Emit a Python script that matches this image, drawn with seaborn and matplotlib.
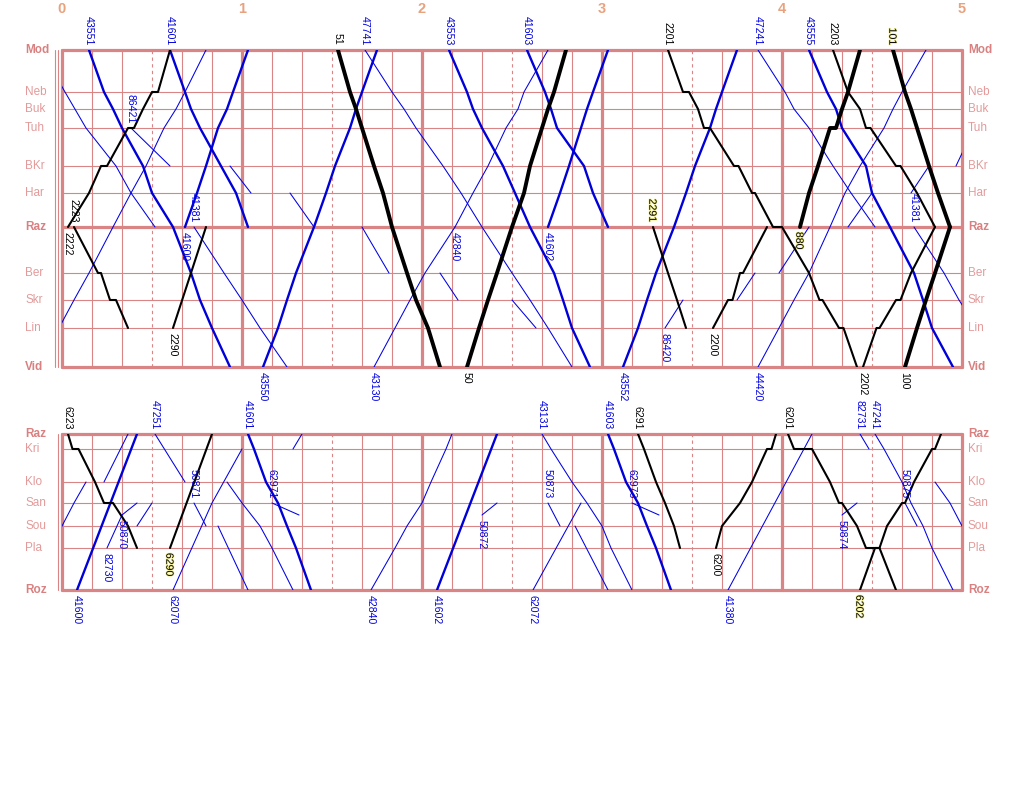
import pandas as pd
import matplotlib
matplotlib.use("Agg")
import matplotlib.pyplot as plt
import matplotlib.patheffects as pe
import seaborn as sns

# stations (position along the line, top panel / bottom panel)
top_stations = ["Mod", "Neb", "Buk", "Tuh", "BKr", "Har", "Raz", "Ber", "Skr", "Lin", "Vid"]
top_km = [0, 42, 59, 78, 116, 143, 177, 223, 250, 278, 317]
top_bold = ["Mod", "Raz", "Vid"]
bot_stations = ["Raz", "Kri", "Klo", "San", "Sou", "Pla", "Roz"]
bot_km = [0, 15, 48, 69, 92, 114, 156]
bot_bold = ["Raz", "Roz"]
junction_km = 81          # unnamed branch point between San and Sou
hours = [0, 1, 2, 3, 4, 5]
marked = ["2291", "6290", "6202", "880", "101"]   # numbers drawn with a yellow halo

# trains: (number, [(station, minute), ...])
top_blue_thick = [
    ("43551", [("Mod", 9), ("Neb", 14), ("Buk", 17), ("Tuh", 20), ("BKr", 27), ("Har", 30), ("Raz", 37), ("Ber", 43), ("Skr", 46), ("Lin", 50), ("Vid", 56)]),
    ("41601", [("Mod", 36), ("Neb", 41), ("Buk", 43), ("Tuh", 46), ("BKr", 53), ("Har", 58), ("Raz", 62)]),
    ("41600", [("Raz", 41), ("Har", 45), ("BKr", 48), ("Tuh", 52), ("Buk", 55), ("Neb", 57), ("Mod", 62)]),
    ("43550", [("Vid", 67), ("Lin", 72), ("Skr", 75), ("Ber", 78), ("Raz", 84), ("Har", 88), ("BKr", 91), ("Tuh", 96), ("Buk", 98), ("Neb", 100), ("Mod", 105)]),
    ("43553", [("Mod", 129), ("Neb", 135), ("Buk", 137), ("Tuh", 140), ("BKr", 147), ("Har", 151), ("Raz", 156), ("Ber", 164), ("Skr", 167), ("Lin", 170), ("Vid", 176)]),
    ("41603", [("Mod", 155), ("Neb", 161), ("Buk", 163), ("Tuh", 165), ("BKr", 174), ("Har", 177), ("Raz", 182)]),
    ("41602", [("Raz", 162), ("Har", 166), ("BKr", 169), ("Tuh", 173), ("Buk", 175), ("Neb", 177), ("Mod", 182)]),
    ("43552", [("Vid", 187), ("Lin", 192), ("Skr", 195), ("Ber", 198), ("Raz", 204), ("Har", 208), ("BKr", 211), ("Tuh", 216), ("Buk", 218), ("Neb", 220), ("Mod", 225)]),
    ("43555", [("Mod", 249), ("Neb", 255), ("Buk", 258), ("Tuh", 260), ("BKr", 268), ("Har", 270), ("Raz", 276), ("Ber", 284), ("Skr", 287), ("Lin", 290), ("Vid", 297)]),
]
top_blue_thin = [
    ("", [("Mod", -7), ("Neb", 1), ("Tuh", 8), ("BKr", 18), ("Har", 23), ("Raz", 31)]),
    ("86421", [("Tuh", 23), ("BKr", 36)]),
    ("", [("Vid", -8), ("Lin", -1), ("Skr", 4), ("Ber", 9), ("Raz", 17), ("Har", 23), ("BKr", 28), ("Tuh", 34), ("Buk", 38), ("Neb", 41), ("Mod", 48)]),
    ("", [("BKr", 56), ("Har", 63)]),
    ("41381", [("Raz", 44), ("Ber", 54), ("Skr", 60), ("Lin", 66), ("Vid", 75)]),
    ("47741", [("Mod", 101), ("Neb", 110), ("Buk", 114), ("Tuh", 118), ("BKr", 127), ("Har", 133), ("Raz", 140), ("Ber", 150), ("Skr", 156), ("Lin", 162), ("Vid", 170)]),
    ("", [("Har", 76), ("Raz", 84)]),
    ("", [("Raz", 100), ("Ber", 109)]),
    ("43130", [("Vid", 104), ("Lin", 111), ("Skr", 116), ("Ber", 121), ("Raz", 131)]),
    ("42840", [("Raz", 131), ("Har", 137), ("BKr", 142), ("Tuh", 148), ("Buk", 152), ("Neb", 154), ("Mod", 162)]),
    ("", [("Ber", 126), ("Skr", 132)]),
    ("", [("Skr", 150), ("Lin", 158)]),
    ("47241", [("Mod", 232), ("Neb", 241), ("Buk", 244), ("Tuh", 249), ("BKr", 257), ("Har", 263), ("Raz", 271)]),
    ("86420", [("Lin", 201), ("Skr", 207)]),
    ("", [("Skr", 225), ("Ber", 231)]),
    ("", [("Ber", 239), ("Raz", 249)]),
    ("44420", [("Vid", 232), ("Lin", 239), ("Skr", 244), ("Ber", 249), ("Raz", 256), ("Har", 261), ("BKr", 266), ("Tuh", 274), ("Buk", 277), ("Neb", 280), ("Mod", 288)]),
    ("", [("Raz", 262), ("Har", 270)]),
    ("", [("Har", 283), ("BKr", 289)]),
    ("41381", [("Raz", 284), ("Ber", 294), ("Skr", 299), ("Lin", 305), ("Vid", 314)]),
    ("", [("BKr", 298), ("Tuh", 304)]),
]
top_black_thick = [
    ("51", [("Mod", 92), ("Neb", 96), ("Buk", 98), ("Tuh", 100), ("BKr", 104), ("Har", 107), ("Raz", 110), ("Ber", 115), ("Skr", 118), ("Lin", 122), ("Vid", 126)]),
    ("50", [("Vid", 135), ("Lin", 139), ("Skr", 142), ("Ber", 145), ("Raz", 150), ("Har", 154), ("BKr", 156), ("Tuh", 160), ("Buk", 162), ("Neb", 164), ("Mod", 168)]),
    ("880", [("Raz", 246), ("Har", 249), ("BKr", 252), ("Tuh", 256), ("Tuh", 258), ("Buk", 260), ("Neb", 262), ("Mod", 266)]),
    ("101", [("Mod", 277), ("Neb", 281), ("Buk", 283), ("Tuh", 285), ("BKr", 289), ("Har", 292), ("Raz", 296)]),
    ("100", [("Vid", 281), ("Lin", 285), ("Skr", 288), ("Ber", 291), ("Raz", 296)]),
]
top_black = [
    ("2222", [("Raz", 2), ("Har", 9), ("BKr", 13), ("BKr", 15), ("Tuh", 22), ("Tuh", 24), ("Buk", 27), ("Neb", 30), ("Neb", 32), ("Mod", 36)]),
    ("2223", [("Raz", 4), ("Ber", 12), ("Ber", 13), ("Skr", 16), ("Skr", 18), ("Lin", 22)]),
    ("2290", [("Lin", 37), ("Raz", 48)]),
    ("2201", [("Mod", 202), ("Neb", 207), ("Neb", 209), ("Buk", 212), ("Tuh", 214), ("Tuh", 216), ("BKr", 224), ("BKr", 225.5), ("Har", 230), ("Har", 231), ("Raz", 237), ("Raz", 240), ("Ber", 249), ("Skr", 252.5), ("Skr", 253.5), ("Lin", 259), ("Lin", 260.5), ("Vid", 265)]),
    ("2291", [("Raz", 197), ("Ber", 202), ("Skr", 205), ("Lin", 208)]),
    ("2200", [("Lin", 217), ("Skr", 222), ("Skr", 223.5), ("Ber", 226), ("Ber", 227), ("Raz", 235)]),
    ("2203", [("Mod", 257), ("Neb", 262), ("Buk", 266), ("Tuh", 268), ("Tuh", 269.5), ("BKr", 278), ("BKr", 279.5), ("Har", 285), ("Raz", 291)]),
    ("2202", [("Vid", 267), ("Lin", 271.5), ("Lin", 272.5), ("Skr", 278), ("Skr", 279.5), ("Ber", 283), ("Raz", 291)]),
]

bot_blue_thick = [
    ("41600", [("Roz", 5), ("Raz", 25)]),
    ("41601", [("Raz", 62), ("Kri", 64), ("Klo", 68), ("San", 72), ("Sou", 75), ("Pla", 78), ("Roz", 83)]),
    ("41602", [("Roz", 125), ("Raz", 145)]),
    ("41603", [("Raz", 182), ("Kri", 184), ("Klo", 188), ("San", 192), ("Sou", 195), ("Pla", 198), ("Roz", 203)]),
]
bot_blue_thin = [
    ("", [("Roz", -11), ("Sou", 0), ("San", 4), ("Klo", 8)]),
    ("", [("Klo", 14), ("Raz", 22)]),
    ("82730", [("Pla", 15), ("J", 20)]),
    ("50870", [("J", 20), ("San", 25)]),
    ("", [("Sou", 25), ("San", 30)]),
    ("47251", [("Raz", 31), ("Klo", 41)]),
    ("62070", [("Roz", 37), ("San", 50), ("Kri", 60)]),
    ("50871", [("San", 44), ("Sou", 48)]),
    ("", [("Sou", 52), ("Roz", 62)]),
    ("", [("Klo", 55), ("San", 60), ("Sou", 66), ("Pla", 70), ("Roz", 77)]),
    ("", [("Kri", 77), ("Raz", 80)]),
    ("62971", [("San", 70), ("J", 79)]),
    ("42840", [("Roz", 103), ("Pla", 111), ("Sou", 115), ("San", 120), ("Klo", 123), ("Kri", 128), ("Raz", 130)]),
    ("50872", [("J", 140), ("San", 145)]),
    ("62072", [("Roz", 157), ("San", 173)]),
    ("43131", [("Raz", 160), ("Kri", 163), ("Klo", 170), ("San", 175), ("Sou", 180), ("Pla", 183), ("Roz", 190)]),
    ("50873", [("San", 162), ("Sou", 166)]),
    ("", [("Sou", 171), ("Roz", 182)]),
    ("62973", [("San", 190), ("J", 199)]),
    ("41380", [("Roz", 222), ("Raz", 250)]),
    ("82731", [("Raz", 266), ("Kri", 269)]),
    ("47241", [("Raz", 271), ("Kri", 274), ("Klo", 280), ("San", 283), ("Sou", 287), ("Pla", 290), ("Roz", 297)]),
    ("50874", [("J", 260), ("San", 265)]),
    ("50875", [("San", 281), ("Sou", 285)]),
    ("", [("Klo", 291), ("San", 296), ("Sou", 300), ("Pla", 304)]),
]
bot_black = [
    ("6223", [("Raz", 2), ("Kri", 3.5), ("Kri", 5.5), ("Klo", 11), ("San", 14), ("San", 17), ("Sou", 22), ("Pla", 25)]),
    ("6290", [("Pla", 36), ("Raz", 50)]),
    ("6291", [("Raz", 192), ("Kri", 194), ("Klo", 198), ("San", 201), ("Sou", 204), ("Pla", 206)]),
    ("6200", [("Pla", 218), ("Sou", 220), ("San", 226), ("Klo", 230), ("Kri", 235), ("Kri", 236.5), ("Raz", 238)]),
    ("6201", [("Raz", 242), ("Kri", 244), ("Kri", 250), ("Klo", 256), ("San", 259), ("San", 260), ("Sou", 265), ("Pla", 268), ("Pla", 272.5), ("Roz", 278)]),
    ("6202", [("Roz", 266), ("Pla", 271), ("Pla", 272.5), ("Sou", 275), ("San", 280), ("San", 281), ("Klo", 284), ("Kri", 290), ("Kri", 291), ("Raz", 293)]),
]

styles = {
    "blue_thin": ("#0000e6", 0.75),
    "blue_thick": ("#0000d8", 1.7),
    "black": ("#000000", 1.5),
    "black_thick": ("#000000", 2.8),
}
grid_c = "#d98585"
name_c = "#e39a9a"
hour_c = "#e8a27e"


def build(groups, km):
    rows = []
    for kind, trains in groups.items():
        for i, (num, stops) in enumerate(trains):
            for st, t in stops:
                rows.append({"train": f"{kind}{i}", "num": num, "kind": kind, "t": t, "km": km[st]})
    return pd.DataFrame(rows)


def draw_panel(ax, df, stations, km, bold, height):
    ax.set_xlim(0, 300)
    ax.set_ylim(height, 0)
    # vertical time grid, every 10 minutes
    for m in range(0, 301, 10):
        if m % 60 == 0:
            ax.axvline(m, color=grid_c, lw=2.3, zorder=1, clip_on=False)
        elif m % 30 == 0:
            ax.axvline(m, color=grid_c, lw=0.8, ls=(0, (3, 3)), zorder=1)
        else:
            ax.axvline(m, color=grid_c, lw=0.8, zorder=1)
    for st in stations:
        y = km[st]
        lw = 2.3 if st in bold else 0.8
        ax.axhline(y, color=grid_c, lw=lw, zorder=1, clip_on=False)
        w = "bold" if st in bold else "normal"
        c = "#d98080" if st in bold else name_c
        ax.text(-12.3, y, st, ha="left", va="center", fontsize=8.5, color=c, fontweight=w)
        ax.text(302, y, st, ha="left", va="center", fontsize=8.5, color=c, fontweight=w)

    for kind, (c, lw) in styles.items():
        sub = df[df["kind"] == kind]
        if sub.empty:
            continue
        sns.lineplot(data=sub, x="t", y="km", units="train", estimator=None, sort=False,
                     color=c, linewidth=lw, ax=ax, legend=False, zorder=3)

    # train numbers at the start of each run
    for tid, g in df.groupby("train", sort=False):
        num = g["num"].iloc[0]
        if not num:
            continue
        t0, k0, k1 = g["t"].iloc[0], g["km"].iloc[0], g["km"].iloc[1]
        c = styles[g["kind"].iloc[0]][0]
        fx = [pe.withStroke(linewidth=1.0, foreground="#f2ee8a")] if num in marked else None
        if k1 > k0:
            ax.annotate(num, (t0, k0), xytext=(-0.5, 3.5), textcoords="offset points",
                        rotation=270, ha="center", va="bottom", fontsize=7.6, color=c,
                        path_effects=fx, zorder=5)
        else:
            ax.annotate(num, (t0, k0), xytext=(-0.5, -3.5), textcoords="offset points",
                        rotation=270, ha="center", va="top", fontsize=7.6, color=c,
                        path_effects=fx, zorder=5)
    ax.set_xlim(0, 300)
    ax.set_ylim(height, 0)
    ax.set_axis_off()


sns.set_theme(style="white")
plt.rcParams["font.family"] = ["Liberation Sans", "DejaVu Sans"]

top_pos = dict(zip(top_stations, top_km))
bot_pos = dict(zip(bot_stations, bot_km))
bot_pos["J"] = junction_km

top_df = build({"blue_thin": top_blue_thin, "blue_thick": top_blue_thick,
                "black": top_black, "black_thick": top_black_thick}, top_pos)
bot_df = build({"blue_thin": bot_blue_thin, "blue_thick": bot_blue_thick,
                "black": bot_black}, bot_pos)

fig = plt.figure(figsize=(10.24, 8), dpi=100)
ax1 = fig.add_axes([62 / 1024, 1 - 367 / 800, 900 / 1024, 317 / 800])
ax2 = fig.add_axes([62 / 1024, 1 - 590 / 800, 900 / 1024, 156 / 800])

draw_panel(ax1, top_df, top_stations, top_pos, top_bold, 317)
draw_panel(ax2, bot_df, bot_stations, bot_pos, bot_bold, 156)

# thin double rule left of the panels
for x in (-2.2, -1.2):
    ax1.plot([x, x], [0, 317], color=grid_c, lw=0.8, clip_on=False)
ax2.plot([-1.3, -1.3], [0, 156], color=grid_c, lw=0.8, clip_on=False)

for h in hours:
    ax1.text(h * 60, -41, str(h), ha="center", va="center", fontsize=10.5,
             fontweight="bold", color=hour_c)

fig.savefig("out.png", dpi=100, facecolor="white")
